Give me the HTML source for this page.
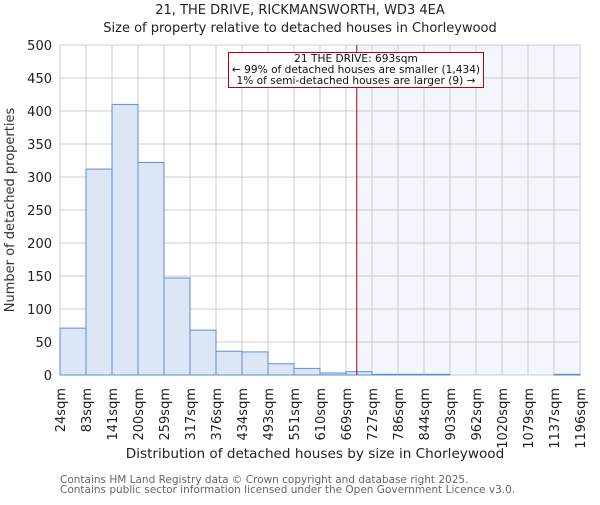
<!DOCTYPE html>
<html><head><meta charset="utf-8"><style>body{margin:0;background:#fff}svg{font-family:"DejaVu Sans","Liberation Sans",sans-serif}</style></head>
<body>
<svg width="600" height="500">
<text x="300" y="14" text-anchor="middle" font-size="13" fill="#222">21, THE DRIVE, RICKMANSWORTH, WD3 4EA</text>
<text x="300" y="32" text-anchor="middle" font-size="13" fill="#222">Size of property relative to detached houses in Chorleywood</text>
<g id="g"></g>
<text transform="translate(14,210) rotate(-90)" text-anchor="middle" font-size="13" fill="#333">Number of detached properties</text>
<text x="315" y="458" text-anchor="middle" font-size="13.6" fill="#222">Distribution of detached houses by size in Chorleywood</text>
<text x="60" y="483" font-size="10.5" fill="#666">Contains HM Land Registry data © Crown copyright and database right 2025.</text>
<text x="60" y="493" font-size="10.5" fill="#666">Contains public sector information licensed under the Open Government Licence v3.0.</text>
</svg>
<script>
const edgeLabels=["24sqm","83sqm","141sqm","200sqm","259sqm","317sqm","376sqm","434sqm","493sqm","551sqm","610sqm","669sqm","727sqm","786sqm","844sqm","903sqm","962sqm","1020sqm","1079sqm","1137sqm","1196sqm"];
const edgeValues=[24,83,141,200,259,317,376,434,493,551,610,669,727,786,844,903,962,1020,1079,1137,1196];
const counts=[71,312,410,322,147,68,36,35,17,10,3,5,1,1,1,0,0,0,0,1];
const yTicks=[0,50,100,150,200,250,300,350,400,450,500];
const propertySize=693;
const NS="http://www.w3.org/2000/svg";
const g=document.getElementById('g');
const L=60,R=580,T=45,B=375,n=counts.length;
const xi=i=>L+(R-L)*i/n;
const y=v=>B-(B-T)*v/500;
function xv(v){for(let i=0;i<edgeValues.length-1;i++){if(v<=edgeValues[i+1])return xi(i)+(v-edgeValues[i])/(edgeValues[i+1]-edgeValues[i])*(xi(i+1)-xi(i));}return R;}
function mk(t,a){const e=document.createElementNS(NS,t);for(const k in a)e.setAttribute(k,a[k]);g.appendChild(e);return e;}
const px=xv(propertySize);
let e=mk('rect',{x:px,y:T,width:R-px,height:B-T,fill:'#f3f6fc'});


yTicks.forEach(v=>{let l=mk('line',{x1:L,x2:R,y1:y(v),y2:y(v),stroke:'#ccc','stroke-width':1});


let t=mk('text',{x:L-8,y:y(v)+5,'text-anchor':'end','font-size':13,fill:'#222'});t.textContent=v;

});
edgeLabels.forEach((s,i)=>{let l=mk('line',{x1:xi(i),x2:xi(i),y1:T,y2:B,stroke:'#ccc','stroke-width':1});


let t=mk('text',{transform:`translate(${xi(i)+5},388) rotate(-90)`,'text-anchor':'end','font-size':13,fill:'#222'});t.textContent=s;

});
counts.forEach((c,i)=>{if(c<=0)return;let r=mk('rect',{x:xi(i),y:y(c),width:xi(i+1)-xi(i),height:B-y(c),fill:'#dce6f4',stroke:'#5b8fd6','stroke-width':1});

});
e=mk('line',{x1:px,x2:px,y1:T,y2:B,stroke:'#b00000','stroke-width':1});


e=mk('rect',{x:228.5,y:52.5,width:255,height:35,fill:'#fff',stroke:'#c00000','stroke-width':1});


["21 THE DRIVE: 693sqm","← 99% of detached houses are smaller (1,434)","1% of semi-detached houses are larger (9) →"].forEach((s,i)=>{let t=mk('text',{x:356,y:62+i*11,'text-anchor':'middle','font-size':10.6,fill:'#111'});t.textContent=s;

});
</script>
</body></html>
